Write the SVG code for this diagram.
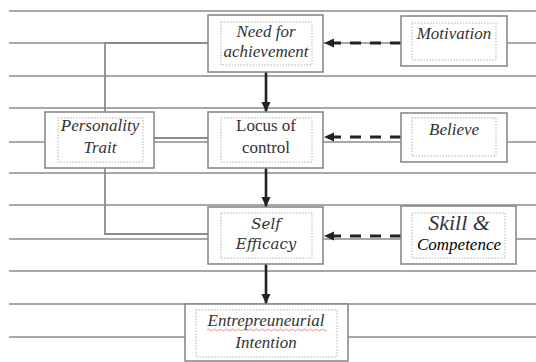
<svg xmlns="http://www.w3.org/2000/svg" width="536" height="362" viewBox="0 0 536 362">
<defs>
<marker id="ah" markerUnits="userSpaceOnUse" markerWidth="10" markerHeight="10" viewBox="0 0 10 10" refX="10" refY="5" orient="auto">
<path d="M0,0.5 L10,5 L0,9.5 Z" fill="#222"/>
</marker>
</defs>
<rect width="536" height="362" fill="#fff"/>
<g id="background" stroke="#a8a8a8" stroke-width="2" fill="none">
<line x1="9" y1="11" x2="536" y2="11"/>
<line x1="9" y1="43" x2="536" y2="43"/>
<line x1="9" y1="76" x2="536" y2="76"/>
<line x1="9" y1="108" x2="536" y2="108"/>
<line x1="9" y1="142" x2="536" y2="142"/>
<line x1="9" y1="173" x2="536" y2="173"/>
<line x1="9" y1="205" x2="536" y2="205"/>
<line x1="9" y1="239" x2="536" y2="239"/>
<line x1="9" y1="271" x2="536" y2="271"/>
<line x1="9" y1="304" x2="536" y2="304"/>
<line x1="9" y1="337" x2="536" y2="337"/>
</g>
<g id="connectors" fill="none">
<g stroke="#8c8c8c" stroke-width="1.8">
<polyline points="105,112 105,43 209,43"/>
<polyline points="105,168 105,234 209,234"/>
<line x1="154" y1="138" x2="209" y2="138"/>
</g>
<g stroke="#222" stroke-width="2.6">
<line x1="266" y1="72" x2="266" y2="112" marker-end="url(#ah)"/>
<line x1="266" y1="168" x2="266" y2="207" marker-end="url(#ah)"/>
<line x1="266" y1="264" x2="266" y2="304" marker-end="url(#ah)"/>
</g>
<g stroke="#222" stroke-width="3" stroke-dasharray="11,9">
<line x1="401" y1="43" x2="324" y2="43" marker-end="url(#ah)"/>
<line x1="401" y1="137" x2="324" y2="137" marker-end="url(#ah)"/>
<line x1="401" y1="236" x2="324" y2="236" marker-end="url(#ah)"/>
</g>
</g>
<g id="need">
<rect x="208" y="15" width="115" height="57" fill="#fff" stroke="#8a8a8a" stroke-width="1.6"/>
<rect x="221" y="22" width="91" height="43" fill="none" stroke="#b0b0b0" stroke-width="1" stroke-dasharray="1.5,1.5"/>
<text x="266" y="37" font-family="Times New Roman" font-style="italic" font-size="17" fill="#333" text-anchor="middle">Need for</text>
<text x="266" y="57" font-family="Times New Roman" font-style="italic" font-size="17" fill="#333" text-anchor="middle">achievement</text>
</g>
<g id="motivation">
<rect x="401" y="16" width="106" height="50" fill="#fff" stroke="#8a8a8a" stroke-width="1.6"/>
<rect x="412" y="23" width="84" height="37" fill="none" stroke="#b0b0b0" stroke-width="1" stroke-dasharray="1.5,1.5"/>
<text x="454" y="39" font-family="serif" font-style="italic" font-size="17" fill="#333" text-anchor="middle">Motivation</text>
</g>
<g id="personality">
<rect x="45" y="112" width="109" height="56" fill="#fff" stroke="#8a8a8a" stroke-width="1.6"/>
<rect x="58" y="118" width="85" height="44" fill="none" stroke="#b0b0b0" stroke-width="1" stroke-dasharray="1.5,1.5"/>
<text x="100" y="131" font-family="Liberation Serif" font-style="italic" font-size="17" fill="#333" text-anchor="middle">Personality</text>
<text x="100" y="153" font-family="Liberation Serif" font-style="italic" font-size="17" fill="#333" text-anchor="middle">Trait</text>
</g>
<g id="locus">
<rect x="208" y="112" width="115" height="56" fill="#fff" stroke="#8a8a8a" stroke-width="1.6"/>
<rect x="221" y="118" width="91" height="44" fill="none" stroke="#b0b0b0" stroke-width="1" stroke-dasharray="1.5,1.5"/>
<text x="266" y="131" font-family="Liberation Serif" font-size="17" fill="#333" text-anchor="middle">Locus of</text>
<text x="266" y="153" font-family="Liberation Serif" font-size="17" fill="#333" text-anchor="middle">control</text>
</g>
<g id="believe">
<rect x="401" y="113" width="106" height="49" fill="#fff" stroke="#8a8a8a" stroke-width="1.6"/>
<rect x="412" y="118" width="84" height="38" fill="none" stroke="#b0b0b0" stroke-width="1" stroke-dasharray="1.5,1.5"/>
<text x="429" y="135" font-family="Liberation Serif" font-style="italic" font-size="17" fill="#333">Believe</text>
</g>
<g id="self">
<rect x="208" y="207" width="115" height="57" fill="#fff" stroke="#8a8a8a" stroke-width="1.6"/>
<rect x="221" y="213" width="91" height="45" fill="none" stroke="#b0b0b0" stroke-width="1" stroke-dasharray="1.5,1.5"/>
<text x="266" y="229" font-family="DejaVu Serif" font-style="italic" font-size="15" fill="#333" text-anchor="middle">Self</text>
<text x="266" y="249" font-family="DejaVu Serif" font-style="italic" font-size="15" fill="#333" text-anchor="middle">Efficacy</text>
</g>
<g id="skill">
<rect x="401" y="206" width="115" height="58" fill="#fff" stroke="#8a8a8a" stroke-width="1.6"/>
<rect x="412" y="213" width="93" height="45" fill="none" stroke="#b0b0b0" stroke-width="1" stroke-dasharray="1.5,1.5"/>
<text x="459" y="230" font-family="Liberation Serif" font-style="italic" font-size="22" fill="#333" text-anchor="middle">Skill &amp;</text>
<text x="459" y="250" font-family="Liberation Serif" font-style="italic" font-size="17" fill="#000" text-anchor="middle">Competence</text>
</g>
<g id="intention">
<rect x="185" y="304" width="163" height="57" fill="#fff" stroke="#8a8a8a" stroke-width="1.6"/>
<rect x="196" y="310" width="141" height="47" fill="none" stroke="#b0b0b0" stroke-width="1" stroke-dasharray="1.5,1.5"/>
<text x="266" y="326" font-family="Liberation Serif" font-style="italic" font-size="17" fill="#333" text-anchor="middle">Entrepreuneurial</text>
<path d="M207,330 q1.5,-1.5 3,0 t3,0 t3,0 t3,0 t3,0 t3,0 t3,0 t3,0 t3,0 t3,0 t3,0 t3,0 t3,0 t3,0 t3,0 t3,0 t3,0 t3,0 t3,0 t3,0 t3,0 t3,0 t3,0 t3,0 t3,0 t3,0 t3,0 t3,0 t3,0 t3,0 t3,0 t3,0 t3,0 t3,0 t3,0 t3,0 t3,0 t3,0 t3,0 t3,0" fill="none" stroke="#d77" stroke-width="0.8"/>
<text x="266" y="348" font-family="Liberation Serif" font-style="italic" font-size="17" fill="#333" text-anchor="middle">Intention</text>
</g>
</svg>
